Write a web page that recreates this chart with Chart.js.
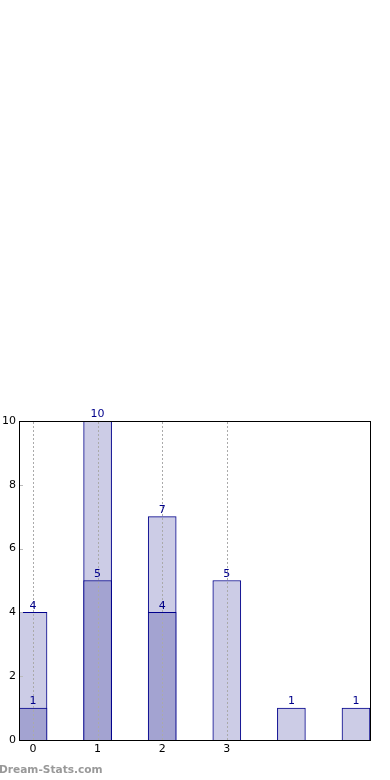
<!DOCTYPE html>
<html><head><meta charset="utf-8">
<script src="https://cdn.jsdelivr.net/npm/chart.js@4/dist/chart.umd.min.js"></script>
<style>
html,body{margin:0;padding:0;background:#fff;}
#wrap{position:relative;width:390px;height:780px;}
#wm{position:absolute;left:-1px;top:763px;font:bold 10.6px "DejaVu Sans",sans-serif;color:#999;}
</style></head>
<body>
<div id="wrap"><canvas id="c" width="390" height="780"></canvas><div id="wm">Dream-Stats.com</div></div>
<script>
const categories = [0, 1, 2, 3, 4, 5];
const totals = [4, 10, 7, 5, 1, 1];
const subset = [1, 5, 4, 0, 0, 0];
const xTickLabels = ['0', '1', '2', '3'];
const yTicks = [0, 2, 4, 6, 8, 10];

const FONT = {family: 'DejaVu Sans', size: 11};

const frame = {
  id: 'frame',
  afterDatasetsDraw(chart) {
    const {ctx, chartArea: a, scales} = chart;
    ctx.save();
    ctx.strokeStyle = '#aaa'; ctx.lineWidth = 1; ctx.setLineDash([2, 2]);
    xTickLabels.forEach((l, i) => {
      const x = Math.round(scales.x.getPixelForValue(categories[i])) + 0.5;
      ctx.beginPath(); ctx.moveTo(x, a.bottom); ctx.lineTo(x, a.top); ctx.stroke();
    });
    ctx.setLineDash([]);
    ctx.strokeStyle = '#bbb';
    yTicks.forEach(v => {
      const y = Math.round(scales.y.getPixelForValue(v)) + 0.5;
      ctx.beginPath(); ctx.moveTo(a.left, y); ctx.lineTo(a.left + 4, y); ctx.stroke();
    });
    ctx.restore();
  },
  afterDraw(chart) {
    const {ctx, chartArea: a} = chart;
    ctx.save();
    ctx.strokeStyle = '#000'; ctx.lineWidth = 1;
    ctx.strokeRect(Math.round(a.left) + 0.5, Math.round(a.top) + 0.5, Math.round(a.right - a.left), Math.round(a.bottom - a.top));
    ctx.font = '11px "DejaVu Sans"';
    ctx.fillStyle = '#00008b';
    ctx.textAlign = 'center'; ctx.textBaseline = 'bottom';
    chart.data.datasets.forEach((ds, di) => {
      const meta = chart.getDatasetMeta(di);
      meta.data.forEach((el, i) => {
        const v = ds.data[i].y;
        if (v > 0) ctx.fillText(String(v), el.x, el.y - 1);
      });
    });
    ctx.restore();
  }
};

new Chart(document.getElementById('c'), {
  type: 'bar',
  data: {
    datasets: [
      {data: categories.map((c, i) => ({x: c, y: totals[i]})), backgroundColor: '#ccccE6', borderColor: '#00008b', borderWidth: 1, grouped: false, barThickness: 28, order: 2},
      {data: categories.map((c, i) => ({x: c, y: subset[i]})), backgroundColor: '#a3a3d1', borderColor: '#00008b', borderWidth: 1, grouped: false, barThickness: 28, order: 1}
    ]
  },
  options: {
    responsive: false,
    animation: false,
    events: [],
    layout: {padding: {top: 421, right: 20, left: 0, bottom: 0}},
    plugins: {legend: {display: false}, tooltip: {enabled: false}},
    scales: {
      x: {
        type: 'linear', min: -0.217, max: 5.217, offset: false,
        afterBuildTicks: s => { s.ticks = xTickLabels.map((l, i) => ({value: categories[i]})); },
        afterFit: s => { s.height = 40; },
        ticks: {font: FONT, color: '#000', padding: 3, autoSkip: false, callback: (v, i) => xTickLabels[i]},
        grid: {display: false, offset: false, drawTicks: false},
        border: {display: true, color: '#000'}
      },
      y: {
        min: 0, max: 10,
        afterBuildTicks: s => { s.ticks = yTicks.map(v => ({value: v})); },
        afterFit: s => { s.width = 19; },
        ticks: {font: FONT, color: '#000', padding: 3},
        grid: {display: false, drawTicks: false},
        border: {display: true, color: '#000'}
      }
    }
  },
  plugins: [frame]
});
</script>
</body></html>
